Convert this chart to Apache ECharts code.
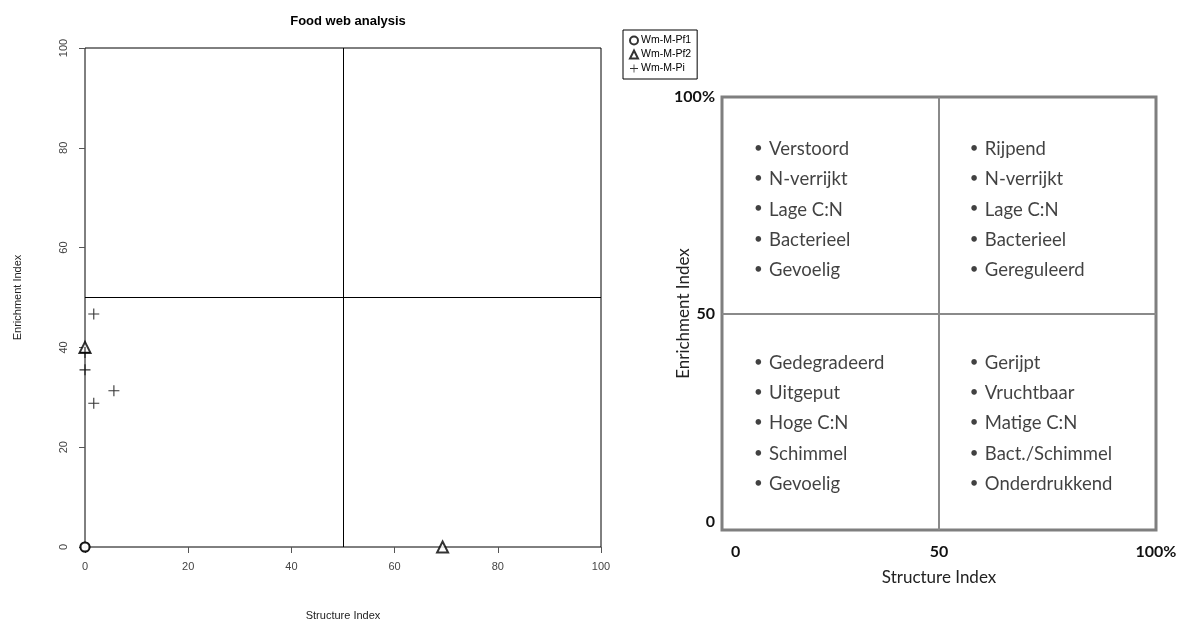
<!DOCTYPE html>
<html><head><meta charset="utf-8">
<script src="https://cdn.jsdelivr.net/npm/echarts@6/dist/echarts.min.js"></script>
<style>html,body{margin:0;padding:0;background:#fff}#c{width:1184px;height:624px}</style>
</head><body><div id="c"></div>
<script>
// ---- data ----
const titleText = 'Food web analysis';
const seriesNames = ['Wm-M-Pf1', 'Wm-M-Pf2', 'Wm-M-Pi'];
const pf1 = [[0, 0], [0, 0]];
const pf2 = [[0, 40], [69.3, 0]];
const pi = [[1.7, 46.7], [0, 39], [0, 35.5], [1.7, 28.8], [5.6, 31.3]];
const leftTicks = [0, 20, 40, 60, 80, 100];
const rightXLabels = ['0', '50', '100%'];
const rightYLabels = ['0', '50', '100%'];
const quadTopLeft = ['Verstoord', 'N-verrijkt', 'Lage C:N', 'Bacterieel', 'Gevoelig'];
const quadTopRight = ['Rijpend', 'N-verrijkt', 'Lage C:N', 'Bacterieel', 'Gereguleerd'];
const quadBottomLeft = ['Gedegradeerd', 'Uitgeput', 'Hoge C:N', 'Schimmel', 'Gevoelig'];
const quadBottomRight = ['Gerijpt', 'Vruchtbaar', 'Matige C:N', 'Bact./Schimmel', 'Onderdrukkend'];

// ---- layout helpers ----
function quadItems(list, x0, y0, step) {
  return list.map((t, i) => [x0, y0 - i * step, t]);
}
const textData = [].concat(
  quadItems(quadTopLeft, 7.4, 88.0, 7.0),
  quadItems(quadTopRight, 57.1, 88.0, 7.0),
  quadItems(quadBottomLeft, 7.4, 38.6, 7.0),
  quadItems(quadBottomRight, 57.1, 38.6, 7.0)
);

const rFont = '"Liberation Sans", Arial, sans-serif';
const cFont = 'Lato, "Open Sans", sans-serif';
const plusPath = 'path://M4.5,0h1v4.5h4.5v1h-4.5v4.5h-1v-4.5h-4.5v-1h4.5z';

const chart = echarts.init(document.getElementById('c'));
chart.setOption({
  animation: false,
  backgroundColor: '#fff',
  title: {
    text: titleText, left: 343, top: 10, textAlign: 'center',
    textStyle: { fontFamily: rFont, fontSize: 13, fontWeight: 'bold', color: '#000' }
  },
  legend: {
    data: seriesNames, orient: 'vertical', left: 623, top: 30,
    padding: [5, 6, 5, 6], itemWidth: 8, itemHeight: 8, itemGap: 3,
    borderColor: '#000', borderWidth: 1, borderRadius: 0,
    itemStyle: { borderWidth: 1 },
    textStyle: { fontFamily: rFont, fontSize: 10.5, color: '#000', padding: [0, 0, 0, -2] }
  },
  grid: [
    { left: 85, top: 48, width: 516, height: 499, show: true, borderColor: '#000', borderWidth: 1, backgroundColor: 'transparent', outerBoundsMode: 'none', containLabel: false },
    { left: 722, top: 97, width: 434, height: 433, show: true, borderColor: '#7f7f7f', borderWidth: 3, backgroundColor: 'transparent', outerBoundsMode: 'none', containLabel: false }
  ],
  xAxis: [
    {
      gridIndex: 0, type: 'value', min: 0, max: 100, interval: 20,
      name: 'Structure Index', nameLocation: 'middle', nameGap: 63, nameMoveOverlap: false,
      nameTextStyle: { fontFamily: rFont, fontSize: 11, color: '#222' },
      axisLine: { show: false }, splitLine: { show: false },
      axisTick: { show: true, length: 6, lineStyle: { color: '#555' } },
      axisLabel: { fontFamily: rFont, fontSize: 11, color: '#444', margin: 14,
        formatter: v => leftTicks.indexOf(v) >= 0 ? String(v) : '' }
    },
    {
      gridIndex: 1, type: 'value', min: 0, max: 100, interval: 50,
      name: 'Structure Index', nameLocation: 'middle', nameGap: 39, nameMoveOverlap: false,
      nameTextStyle: { fontFamily: cFont, fontSize: 17, color: '#222' },
      axisLine: { show: false }, splitLine: { show: false }, axisTick: { show: false },
      axisLabel: { fontFamily: cFont, fontSize: 16, fontWeight: 'bold', color: '#111', margin: 14,
        alignMinLabel: 'left',
        formatter: (v) => { const i = v / 50; return i === 0 ? '{a|' + rightXLabels[0] + '}' : rightXLabels[i]; },
        rich: { a: { fontFamily: cFont, fontSize: 16, fontWeight: 'bold', color: '#111', padding: [0, 0, 0, 9] } }
      }
    }
  ],
  yAxis: [
    {
      gridIndex: 0, type: 'value', min: 0, max: 100, interval: 20,
      name: 'Enrichment Index', nameLocation: 'middle', nameGap: 62, nameRotate: 90, nameMoveOverlap: false,
      nameTextStyle: { fontFamily: rFont, fontSize: 11, color: '#222' },
      axisLine: { show: false }, splitLine: { show: false },
      axisTick: { show: true, length: 6, lineStyle: { color: '#555' } },
      axisLabel: { fontFamily: rFont, fontSize: 11, color: '#444', margin: 16, rotate: 90,
        formatter: v => leftTicks.indexOf(v) >= 0 ? String(v) : '' }
    },
    {
      gridIndex: 1, type: 'value', min: 0, max: 100, interval: 50,
      name: 'Enrichment Index', nameLocation: 'middle', nameGap: 30, nameRotate: 90, nameMoveOverlap: false,
      nameTextStyle: { fontFamily: cFont, fontSize: 17, color: '#222' },
      axisLine: { show: false }, splitLine: { show: false }, axisTick: { show: false },
      axisLabel: { fontFamily: cFont, fontSize: 16, fontWeight: 'bold', color: '#111', margin: 7,
        verticalAlignMinLabel: 'bottom',
        formatter: v => rightYLabels[v / 50] }
    }
  ],
  series: [
    {
      name: seriesNames[0], type: 'scatter', xAxisIndex: 0, yAxisIndex: 0, clip: false,
      symbol: 'emptyCircle', symbolSize: 9,
      itemStyle: { color: '#000', borderWidth: 1.2 },
      data: pf1,
      markLine: {
        silent: true, symbol: ['none', 'none'], label: { show: false },
        lineStyle: { color: '#000', width: 1, type: 'solid' },
        data: [{ xAxis: 50 }, { yAxis: 50 }]
      }
    },
    {
      name: seriesNames[1], type: 'scatter', xAxisIndex: 0, yAxisIndex: 0, clip: false,
      symbol: 'emptyTriangle', symbolSize: 11,
      itemStyle: { color: '#000', borderWidth: 1 },
      data: pf2
    },
    {
      name: seriesNames[2], type: 'scatter', xAxisIndex: 0, yAxisIndex: 0, clip: false,
      symbol: plusPath, symbolSize: 11,
      itemStyle: { color: '#000' },
      data: pi
    },
    {
      type: 'scatter', xAxisIndex: 1, yAxisIndex: 1, silent: true, clip: false,
      symbolSize: 0, data: textData,
      label: {
        show: true, position: 'right', distance: 0,
        formatter: p => '{b|•}{t|' + p.data[2] + '}',
        rich: {
          b: { fontFamily: cFont, fontSize: 15, color: '#111', width: 15, padding: [0, 0, 2, 0] },
          t: { fontFamily: cFont, fontSize: 18.5, color: '#111' }
        }
      },
      markLine: {
        silent: true, symbol: ['none', 'none'], label: { show: false },
        lineStyle: { color: '#8a8a8a', width: 2, type: 'solid' },
        data: [{ xAxis: 50 }, { yAxis: 50 }]
      }
    }
  ]
});
</script></body></html>
